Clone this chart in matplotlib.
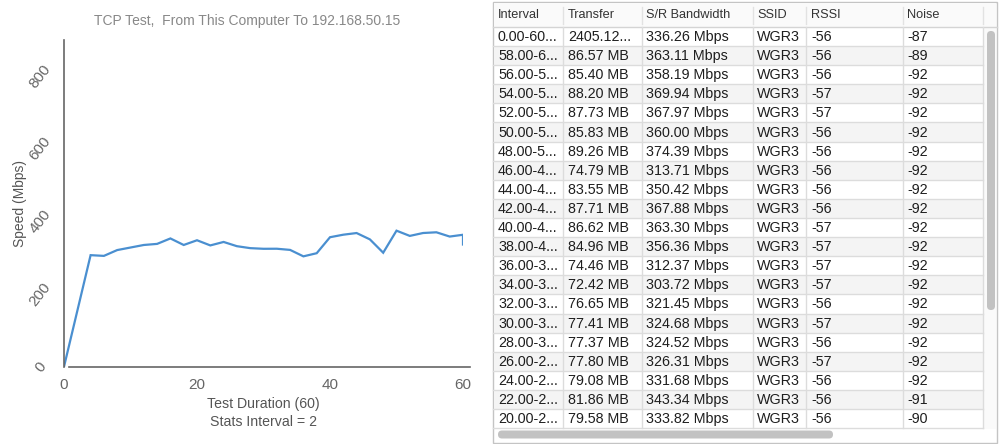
import matplotlib.pyplot as plt
from matplotlib.patches import Rectangle, FancyBboxPatch

plt.rcParams['font.family'] = ['Liberation Sans', 'DejaVu Sans']

# chart data: speed (Mbps) at the end of each 2 s interval, last point = overall average
times = [0, 4, 6, 8, 10, 12, 14, 16, 18, 20, 22, 24, 26, 28, 30, 32, 34, 36, 38,
         40, 42, 44, 46, 48, 50, 52, 54, 56, 58, 60, 60]
speeds = [0, 307, 305, 321, 328, 335, 338, 353, 335, 348, 333.82, 343.34, 331.68,
          326.31, 324.52, 324.68, 321.45, 303.72, 312.37, 356.36, 363.30, 367.88,
          350.42, 313.71, 374.39, 360.00, 367.97, 369.94, 358.19, 363.11, 336.26]

# table data
headers = ["Interval", "Transfer", "S/R Bandwidth", "SSID", "RSSI", "Noise"]
intervals = ["0.00-60...", "58.00-6...", "56.00-5...", "54.00-5...", "52.00-5...",
             "50.00-5...", "48.00-5...", "46.00-4...", "44.00-4...", "42.00-4...",
             "40.00-4...", "38.00-4...", "36.00-3...", "34.00-3...", "32.00-3...",
             "30.00-3...", "28.00-3...", "26.00-2...", "24.00-2...", "22.00-2...",
             "20.00-2..."]
transfers = ["2405.12...", "86.57 MB", "85.40 MB", "88.20 MB", "87.73 MB", "85.83 MB",
             "89.26 MB", "74.79 MB", "83.55 MB", "87.71 MB", "86.62 MB", "84.96 MB",
             "74.46 MB", "72.42 MB", "76.65 MB", "77.41 MB", "77.37 MB", "77.80 MB",
             "79.08 MB", "81.86 MB", "79.58 MB"]
bandwidths = ["336.26 Mbps", "363.11 Mbps", "358.19 Mbps", "369.94 Mbps", "367.97 Mbps",
              "360.00 Mbps", "374.39 Mbps", "313.71 Mbps", "350.42 Mbps", "367.88 Mbps",
              "363.30 Mbps", "356.36 Mbps", "312.37 Mbps", "303.72 Mbps", "321.45 Mbps",
              "324.68 Mbps", "324.52 Mbps", "326.31 Mbps", "331.68 Mbps", "343.34 Mbps",
              "333.82 Mbps"]
ssids = ["WGR3"] * 21
rssis = ["-56", "-56", "-56", "-57", "-57", "-56", "-56", "-56", "-56", "-56", "-57",
         "-57", "-57", "-57", "-56", "-57", "-56", "-57", "-56", "-56", "-56"]
noises = ["-87", "-89", "-92", "-92", "-92", "-92", "-92", "-92", "-92", "-92", "-92",
          "-92", "-92", "-92", "-92", "-92", "-92", "-92", "-92", "-91", "-90"]

W, H = 1000, 444
fig = plt.figure(figsize=(W / 100, H / 100), dpi=100)

# ---- line chart ----
ax = fig.add_axes([64 / W, 1 - 366.7 / H, 399 / W, 327 / H])
ax.plot(times, speeds, color='#4a8fd0', linewidth=1.6, solid_joinstyle='miter')
ax.set_xlim(0, 60)
ax.set_ylim(0, 900)
ax.set_xticks([0, 20, 40, 60])
ax.set_yticks([0, 200, 400, 600, 800])
for s in ['top', 'right']:
    ax.spines[s].set_visible(False)
ax.spines['left'].set_color('#666666')
ax.spines['bottom'].set_color('#666666')
ax.spines['left'].set_linewidth(1.2)
ax.spines['bottom'].set_linewidth(1.2)
ax.spines['bottom'].set_bounds(0.75, 61)
ax.tick_params(length=0, labelsize=11, labelcolor='#666666')
ax.tick_params(axis='x', pad=8)
ax.tick_params(axis='y', pad=17)
for lab in ax.get_yticklabels():
    lab.set_rotation(52)
    lab.set_ha('center')
    lab.set_va('center')
    lab.set_rotation_mode('anchor')
ax.set_ylabel("Speed (Mbps)", fontsize=10, color='#555555', labelpad=0)
ax.set_xlabel("Test Duration (60)\nStats Interval = 2", fontsize=10.2,
              color='#555555', labelpad=3.5, linespacing=1.4)
fig.text(247 / W, 1 - 21 / H, "TCP Test,  From This Computer To 192.168.50.15",
         ha='center', va='center', fontsize=10, color='#888888')

# ---- table panel ----
tb = fig.add_axes([0, 0, 1, 1])
tb.set_xlim(0, W)
tb.set_ylim(H, 0)
tb.axis('off')

left, right, top, bottom = 493, 997, 2, 443
tb.add_patch(Rectangle((left, top), right - left, bottom - top, facecolor='white',
                       edgecolor='#c4c4c4', linewidth=1))
col_lines = [563, 642, 753, 806, 903, 983]
text_x = [498, 568, 646, 757, 811, 907]
header_bottom = 27
row_h = 19.1
n = len(intervals)

# header
tb.add_patch(Rectangle((left + 1, top + 1), right - left - 2, header_bottom - top - 1,
                       facecolor='#fafafa', edgecolor='none'))
tb.plot([left, right], [header_bottom, header_bottom], color='#d4d4d4', lw=1)
for cx in col_lines:
    tb.plot([cx, cx], [7, 24], color='#e2e2e2', lw=1)
for tx, h in zip(text_x, headers):
    tb.text(tx, 15.5, h, ha='left', va='center', fontsize=9.2, color='#333333')

# rows
columns = [intervals, transfers, bandwidths, ssids, rssis, noises]
for i in range(n):
    y0 = header_bottom + i * row_h
    if i % 2 == 1:
        tb.add_patch(Rectangle((left + 1, y0), col_lines[-1] - left - 1, row_h,
                               facecolor='#f4f4f4', edgecolor='none'))
    tb.plot([left, col_lines[-1]], [y0 + row_h, y0 + row_h], color='#dcdcdc', lw=1)
    for tx, col in zip(text_x, columns):
        tb.text(tx, y0 + row_h / 2 + 0.5, col[i], ha='left', va='center',
                fontsize=10.3, color='#1e1e1e')
rows_bottom = header_bottom + n * row_h
for cx in col_lines:
    tb.plot([cx, cx], [header_bottom, rows_bottom], color='#dcdcdc', lw=1)

# scrollbars
tb.add_patch(Rectangle((col_lines[-1] + 0.5, header_bottom + 0.5), right - col_lines[-1] - 1.5,
                       rows_bottom - header_bottom, facecolor='#fafafa', edgecolor='none'))
tb.add_patch(FancyBboxPatch((987, 31), 8, 279, boxstyle='round,pad=0,rounding_size=4',
                            facecolor='#c2c2c2', edgecolor='none'))
tb.add_patch(FancyBboxPatch((498, 430.5), 335, 8, boxstyle='round,pad=0,rounding_size=4',
                            facecolor='#c2c2c2', edgecolor='none'))

fig.savefig('out.png', dpi=100)
